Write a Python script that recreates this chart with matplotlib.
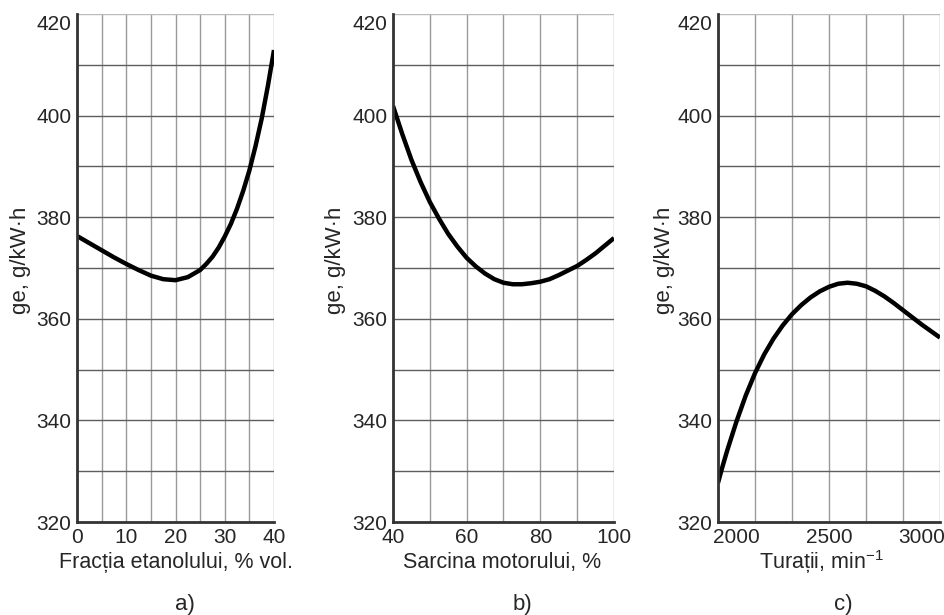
import numpy as np
import matplotlib
matplotlib.use("Agg")
import matplotlib.pyplot as plt
import matplotlib.transforms as mtransforms

plt.rcParams['font.family'] = ['Liberation Sans', 'DejaVu Sans']
plt.rcParams['mathtext.fontset'] = 'custom'
plt.rcParams['mathtext.rm'] = 'Liberation Sans'

# a) consum specific vs fractia de etanol
etanol = [0, 2.5, 5, 7.5, 10, 12.5, 15, 17.5, 20, 22.5, 25, 26.25, 27.5, 28.75, 30, 31.25,
          32.5, 33.75, 35, 36.25, 37.5, 38.75, 40]
ge_a = [376.3, 374.9, 373.5, 372.1, 370.8, 369.6, 368.5, 367.8, 367.6, 368.2, 369.6, 370.8,
        372.2, 374.0, 376.2, 378.7, 381.7, 385.2, 389.2, 394.0, 399.4, 405.8, 412.9]

# b) consum specific vs sarcina motorului
sarcina = [40, 42.5, 45, 47.5, 50, 52.5, 55, 57.5, 60, 62.5, 65, 67.5, 70, 72.5, 75, 77.5,
           80, 82.5, 85, 87.5, 90, 92.5, 95, 97.5, 100]
ge_b = [401.9, 396.4, 391.3, 386.9, 383.0, 379.7, 376.7, 374.2, 372.0, 370.3, 368.9, 367.8,
        367.1, 366.8, 366.8, 367.0, 367.3, 367.8, 368.6, 369.5, 370.4, 371.6, 372.9, 374.4,
        375.9]

# c) consum specific vs turatie
turatie = [1900, 1925, 1950, 2000, 2050, 2100, 2150, 2200, 2250, 2300, 2350, 2400, 2450, 2500,
           2550, 2600, 2650, 2700, 2750, 2800, 2850, 2900, 2950, 3000, 3050, 3100]
ge_c = [327.7, 331.0, 334.1, 339.8, 344.9, 349.3, 353.0, 356.1, 358.7, 360.9, 362.7, 364.2,
        365.4, 366.3, 366.9, 367.1, 366.9, 366.4, 365.5, 364.4, 363.1, 361.7, 360.3, 358.9,
        357.6, 356.3]

W, H = 945, 615
fig = plt.figure(figsize=(W / 100, H / 100), dpi=100)

def px(l, r, t=14, b=522):
    return [l / W, 1 - b / H, (r - l) / W, (b - t) / H]

panels = [
    dict(rect=px(77, 274), x=etanol, y=ge_a, xlim=(0, 40), xgrid=np.arange(0, 41, 5),
         xt=[0, 10, 20, 30, 40], xlabel="Fracția etanolului, % vol.", letter="a)",
         xl=0.503, lt=0.548, yl=-0.285),
    dict(rect=px(393, 614), x=sarcina, y=ge_b, xlim=(40, 100), xgrid=np.arange(40, 101, 10),
         xt=[40, 60, 80, 100], xlabel="Sarcina motorului, %", letter="b)",
         xl=0.493, lt=0.584, yl=-0.262),
    dict(rect=px(718, 940), x=turatie, y=ge_c, xlim=(1900, 3100), xgrid=np.arange(1900, 3101, 200),
         xt=[2000, 2500, 3000], xlabel="Turații, min$^{-1}$", letter="c)",
         xl=0.468, lt=0.563, yl=-0.243),
]

txt = "#262626"
for p in panels:
    ax = fig.add_axes(p["rect"])
    ax.set_xlim(*p["xlim"])
    ax.set_ylim(320, 420)
    # grid
    for gx in p["xgrid"]:
        ax.axvline(gx, color="#9a9a9a", lw=1.0, zorder=1)
    for gy in range(330, 421, 10):
        ax.axhline(gy, color="#5e5e5e" if gy < 420 else "#bbbbbb", lw=1.0, zorder=1)
    ax.plot(p["x"], p["y"], color="black", lw=3.2, solid_capstyle="butt",
            solid_joinstyle="round", zorder=3)

    ax.set_xticks(p["xt"])
    ax.set_yticks([320, 340, 360, 380, 400, 420])
    ax.tick_params(length=0, labelsize=15, labelcolor=txt, pad=4)
    top = ax.get_yticklabels()[-1]
    top.set_transform(top.get_transform() + mtransforms.ScaledTranslation(0, -6 / 72, fig.dpi_scale_trans))
    for s in ["top", "right"]:
        ax.spines[s].set_visible(False)
    for s in ["left", "bottom"]:
        ax.spines[s].set_linewidth(2.0)
        ax.spines[s].set_color("#333333")
        ax.spines[s].set_zorder(4)
    ax.text(p["xl"], -0.079, p["xlabel"], transform=ax.transAxes, ha="center", va="center",
            fontsize=15.5, color=txt)
    ax.text(p["lt"], -0.163, p["letter"], transform=ax.transAxes, ha="center", va="center",
            fontsize=16, color=txt)
    ax.text(p["yl"], 0.516, "ge, g/kW·h", transform=ax.transAxes, ha="center", va="center",
            rotation=90, fontsize=16, color=txt)

fig.savefig("out.png", dpi=100)
